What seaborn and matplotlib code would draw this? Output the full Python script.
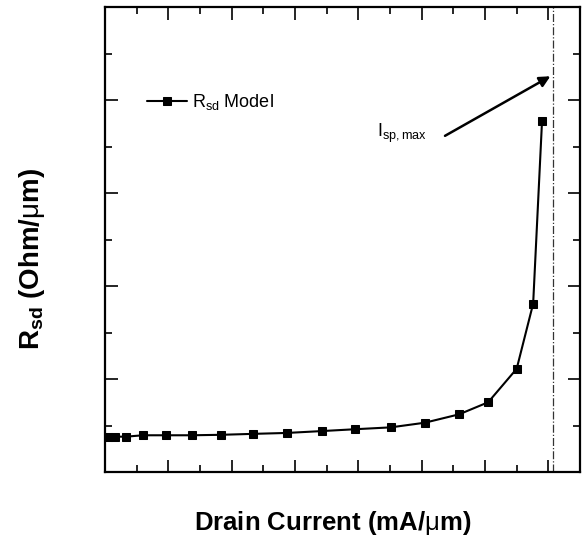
import matplotlib
matplotlib.use("Agg")
import matplotlib.pyplot as plt
import seaborn as sns
import pandas as pd
from matplotlib.ticker import MultipleLocator

# Data (arbitrary units, axes have no tick labels)
drain_current = [0.05, 0.16, 0.33, 0.60, 0.96, 1.37, 1.83, 2.33, 2.87, 3.42,
                 3.95, 4.51, 5.05, 5.59, 6.05, 6.50, 6.76, 6.90]
rsd_model = [0.38, 0.38, 0.38, 0.395, 0.395, 0.395, 0.40, 0.41, 0.42, 0.44,
             0.46, 0.48, 0.53, 0.62, 0.75, 1.11, 1.81, 3.77]
i_sp_max = 7.07

sns.set_style("ticks")
plt.rcParams['font.family'] = ['Liberation Sans', 'DejaVu Sans']
plt.rcParams['text.color'] = 'black'
plt.rcParams['mathtext.fontset'] = 'custom'
plt.rcParams['mathtext.rm'] = 'Liberation Sans'
plt.rcParams['mathtext.bf'] = 'Liberation Sans:bold'

df = pd.DataFrame({'I': drain_current, 'R': rsd_model})

fig = plt.figure(figsize=(5.82, 5.47), dpi=100)
ax = fig.add_axes([0.1804, 0.1371, 0.8162, 0.8501])

sns.lineplot(data=df, x='I', y='R', ax=ax, color='black', linewidth=1.5,
             marker='s', markersize=6, markeredgecolor='black',
             label=r'R$_{\rm sd}$ Model')

ax.axvline(i_sp_max, color='#333333', linewidth=0.9, linestyle='-.')

ax.set_xlim(0, 7.5)
ax.set_ylim(0, 5)
ax.xaxis.set_major_locator(MultipleLocator(1))
ax.xaxis.set_minor_locator(MultipleLocator(0.5))
ax.yaxis.set_major_locator(MultipleLocator(1))
ax.yaxis.set_minor_locator(MultipleLocator(0.5))
ax.tick_params(which='both', direction='in', top=True, right=True,
               labelbottom=False, labelleft=False, color='black')
ax.tick_params(which='major', length=9, width=1.2)
ax.tick_params(which='minor', length=5, width=1.2)
for s in ax.spines.values():
    s.set_linewidth(1.6)
    s.set_color('black')

ax.set_xlabel('')
ax.set_ylabel('')

ax.annotate('', xy=(7.07, 4.27), xytext=(5.33, 3.6),
            arrowprops=dict(arrowstyle='-|>', color='black', lw=1.8,
                            mutation_scale=16))
ax.text(4.3, 3.6, r'I$_{\rm sp,max}$', fontsize=13, color='black',
        ha='left', va='baseline')

leg = ax.legend(loc='center left', bbox_to_anchor=(0.07, 0.795), frameon=False,
                fontsize=13, handlelength=2.2, handletextpad=0.3,
                borderpad=0.0)
for t in leg.get_texts():
    t.set_color('black')

fig.text(0.571, 0.044, r'Drain Current (mA/$\mathrm{\mu}$m)', ha='center',
         va='center', fontsize=18.5, fontweight='bold')
fig.text(0.055, 0.527, r'$\mathbf{R_{sd}}$ (Ohm/$\mathrm{\mu}$m)', ha='center',
         va='center', rotation=90, fontsize=20, fontweight='bold')

fig.savefig('out.png', dpi=100, facecolor='white')
